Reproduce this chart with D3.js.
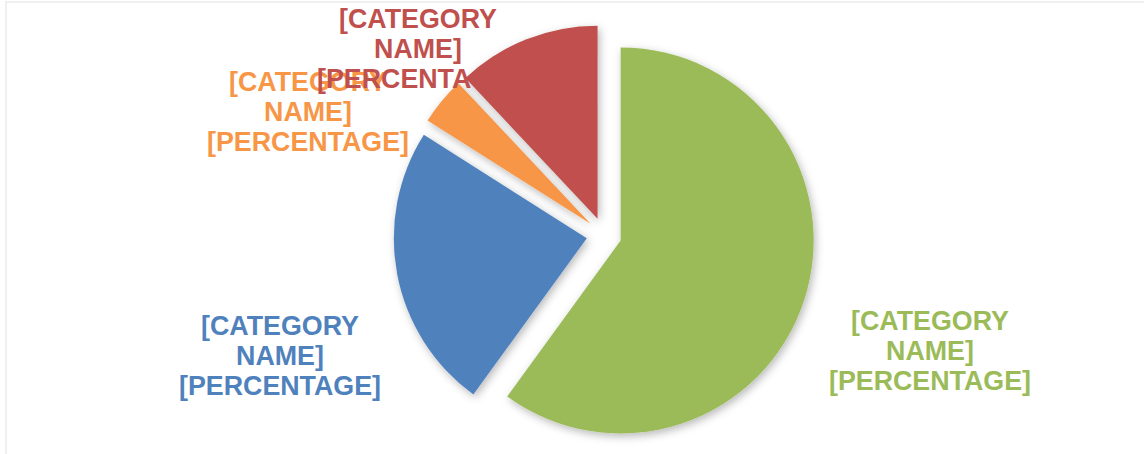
<!DOCTYPE html>
<html>
<head>
<meta charset="utf-8">
<script src="https://cdn.jsdelivr.net/npm/d3@7"></script>
<style>
  html, body { margin: 0; padding: 0; background: #fff; }
  svg { display: block; }
  text { font-family: "Liberation Sans", Arial, sans-serif; font-weight: bold; }
</style>
</head>
<body>
<svg id="chart" width="1144" height="454"></svg>
<script>
// ---- data ----
const categories = ["Green", "Blue", "Orange", "Red"];
const values = [60, 24, 4, 12];
const labelLines = ["[CATEGORY", "NAME]", "[PERCENTAGE]"];
const colors = ["#9BBB59", "#4F81BD", "#F79646", "#C0504D"];

// ---- layout ----
const W = 1144, H = 454;
const cx = 604, cy = 235, radius = 193, explode = 17.5;
// label anchor offsets from pie centre (centre of middle line baseline)
const labelOffsets = [[326, 125], [-324, 130], [-296, -114], [-186, -177]];
const fontSize = 26.8, lineGap = 30;

const svg = d3.select("#chart");

// background frame
svg.append("rect").attr("x", 0).attr("y", 0).attr("width", W).attr("height", H).attr("fill", "#fff");
svg.append("path")
  .attr("d", `M6,${H + 5} L6,2 L${W + 5},2`)
  .attr("fill", "none").attr("stroke", "#f0f0f0").attr("stroke-width", 2);

const defs = svg.append("defs");
const f = defs.append("filter").attr("id", "shadow")
  .attr("x", "-20%").attr("y", "-20%").attr("width", "140%").attr("height", "140%");
f.append("feDropShadow").attr("dx", 2).attr("dy", 3).attr("stdDeviation", 4)
  .attr("flood-color", "#000").attr("flood-opacity", 0.28);

const pie = d3.pie().sort(null).value(d => d);
const arcs = pie(values);
const arc = d3.arc().innerRadius(0).outerRadius(radius);

const g = svg.append("g").attr("transform", `translate(${cx},${cy})`);

g.selectAll("path.slice").data(arcs).enter().append("path")
  .attr("class", "slice")
  .attr("d", arc)
  .attr("fill", (d, i) => colors[i])
  .attr("filter", "url(#shadow)")
  .attr("transform", d => {
    const a = (d.startAngle + d.endAngle) / 2;
    return `translate(${explode * Math.sin(a)},${-explode * Math.cos(a)})`;
  });

const lbl = g.selectAll("text.lbl").data(arcs).enter().append("text")
  .attr("class", "lbl")
  .attr("text-anchor", "middle")
  .attr("font-size", fontSize)
  .attr("fill", (d, i) => colors[i]);

lbl.each(function (d, i) {
  const t = d3.select(this);
  const [ox, oy] = labelOffsets[i];
  labelLines.forEach((line, k) => {
    t.append("tspan").attr("x", ox).attr("y", oy + (k - 1) * lineGap).text(line);
  });
});
</script>
</body>
</html>
